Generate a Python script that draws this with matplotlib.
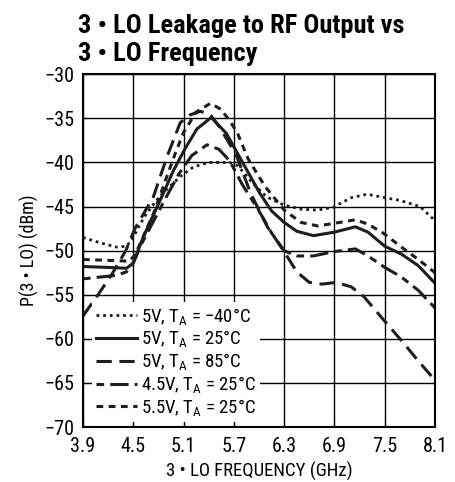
import numpy as np
import matplotlib
matplotlib.use("Agg")
import matplotlib.pyplot as plt

plt.rcParams['font.family'] = ['Roboto Condensed', 'DejaVu Sans']
plt.rcParams['mathtext.fontset'] = 'custom'
plt.rcParams['mathtext.rm'] = 'Roboto Condensed'
plt.rcParams['mathtext.it'] = 'Roboto Condensed'

# 5V, TA = -40C (dotted)
x_m40 = [3.9, 4.1, 4.3, 4.42, 4.5, 4.58, 4.66, 4.76, 4.86, 5.06, 5.22, 5.4, 5.65, 5.75,
         5.93, 6.09, 6.29, 6.5, 6.7, 6.88, 7.1, 7.29, 7.5, 7.68, 7.92, 8.1]
y_m40 = [-48.5, -49.1, -49.6, -49.5, -48.5, -47.0, -45.8, -44.5, -43.4, -41.6, -40.5, -40.0, -40.0, -40.4,
         -42.4, -43.9, -44.8, -45.3, -45.4, -45.1, -44.0, -43.6, -44.0, -44.3, -45.0, -46.6]

# 5V, TA = 25C (solid)
x_25 = [3.9, 4.2, 4.42, 4.5, 4.58, 4.66, 4.82, 4.98, 5.12, 5.26, 5.43, 5.61, 5.81, 6.01,
        6.15, 6.3, 6.45, 6.65, 6.9, 7.15, 7.3, 7.5, 7.7, 7.9, 8.1]
y_25 = [-51.8, -51.9, -52.0, -51.4, -49.4, -47.6, -44.3, -40.9, -38.4, -36.2, -34.9, -36.7, -40.1, -43.5,
        -45.5, -46.8, -47.8, -48.3, -47.9, -47.3, -47.9, -49.5, -50.4, -51.7, -53.7]

# 5V, TA = 85C (long dash)
x_85 = [3.9, 4.08, 4.25, 4.41, 4.52, 4.74, 4.9, 5.06, 5.18, 5.3, 5.42, 5.53, 5.73, 5.9,
        6.1, 6.3, 6.45, 6.6, 6.75, 6.92, 7.1, 7.25, 7.5, 7.7, 7.9, 8.1]
y_85 = [-57.4, -55.0, -52.6, -50.0, -47.5, -43.9, -39.4, -35.5, -34.6, -34.2, -34.6, -36.0, -39.2, -43.5,
        -47.3, -50.1, -52.4, -53.6, -53.8, -53.6, -54.1, -55.2, -58.0, -60.2, -62.5, -64.7]

# 4.5V, TA = 25C (dash-dot)
x_45 = [3.9, 4.1, 4.3, 4.42, 4.5, 4.6, 4.75, 4.9, 5.05, 5.2, 5.38, 5.52, 5.6, 5.65,
        5.8, 6.0, 6.15, 6.3, 6.45, 6.65, 6.9, 7.15, 7.3, 7.5, 7.7, 7.9, 8.1]
y_45 = [-53.2, -53.0, -52.8, -52.4, -51.4, -49.2, -46.5, -43.8, -41.2, -39.2, -38.0, -38.5, -39.3, -39.8,
        -42.5, -45.5, -48.0, -50.0, -50.6, -50.6, -50.1, -49.8, -50.6, -51.9, -53.0, -54.5, -56.5]

# 5.5V, TA = 25C (short dash)
x_55 = [3.9, 4.2, 4.45, 4.52, 4.6, 4.75, 4.9, 5.0, 5.1, 5.25, 5.42, 5.55, 5.65, 5.74,
        5.87, 6.07, 6.3, 6.5, 6.7, 6.9, 7.15, 7.3, 7.48, 7.7, 7.9, 8.1]
y_55 = [-51.0, -51.1, -51.2, -50.5, -48.8, -45.6, -41.6, -39.0, -36.6, -34.3, -33.3, -34.0, -35.3, -36.6,
        -39.6, -42.7, -45.4, -46.8, -47.2, -46.9, -46.5, -47.0, -48.0, -49.6, -51.0, -52.5]

labels = [r'5V, $\mathregular{T_A}$ = −40°C',
          r'5V, $\mathregular{T_A}$ = 25°C',
          r'5V, $\mathregular{T_A}$ = 85°C',
          r'4.5V, $\mathregular{T_A}$ = 25°C',
          r'5.5V, $\mathregular{T_A}$ = 25°C']

xticks = [3.9, 4.5, 5.1, 5.7, 6.3, 6.9, 7.5, 8.1]
yticks = [-70, -65, -60, -55, -50, -45, -40, -35, -30]

fig = plt.figure(figsize=(4.56, 4.82), dpi=100)
ax = fig.add_axes([0.182, 0.114, 0.772, 0.732])

col = '#1e1e1e'
ax.plot(x_m40, y_m40, color=col, lw=2.0, ls=(0, (1, 1.4)), label=labels[0])
ax.plot(x_25, y_25, color=col, lw=2.2, ls='-', label=labels[1])
ax.plot(x_85, y_85, color=col, lw=2.2, ls=(0, (5, 2.5)), label=labels[2])
ax.plot(x_45, y_45, color=col, lw=2.2, ls=(0, (2.5, 2, 6, 2)), label=labels[3])
ax.plot(x_55, y_55, color=col, lw=2.2, ls=(0, (2.2, 1.8)), label=labels[4])

ax.set_xlim(3.9, 8.1)
ax.set_ylim(-70, -30)
ax.set_xticks(xticks)
ax.set_yticks(yticks)
ax.set_xticklabels([str(v) for v in xticks])
ax.set_yticklabels([str(v).replace('-', '−') for v in yticks])
ax.grid(True, color='black', lw=1.0)
ax.tick_params(direction='in', length=4, labelsize=14.5)
ax.tick_params(axis='x', pad=7)
ax.tick_params(axis='y', pad=6)
for s in ax.spines.values():
    s.set_linewidth(1.5)

ax.set_xlabel('3 • LO FREQUENCY (GHz)', fontsize=13.5, labelpad=4)
ax.set_ylabel('P(3 • LO) (dBm)', fontsize=13, labelpad=4)

leg = ax.legend(loc='lower left', bbox_to_anchor=(0.025, 0.015), borderaxespad=0,
                frameon=True, framealpha=1, edgecolor='none', fancybox=False,
                fontsize=13.5, handlelength=2.2, handletextpad=0.25, labelspacing=0.1,
                borderpad=0.2)
leg.get_frame().set_linewidth(0)

fig.text(0.171, 0.970, '3 • LO Leakage to RF Output vs\n3 • LO Frequency',
         fontsize=19, fontweight='bold', ha='left', va='top', linespacing=1.2)

fig.savefig('out.png', dpi=100)
